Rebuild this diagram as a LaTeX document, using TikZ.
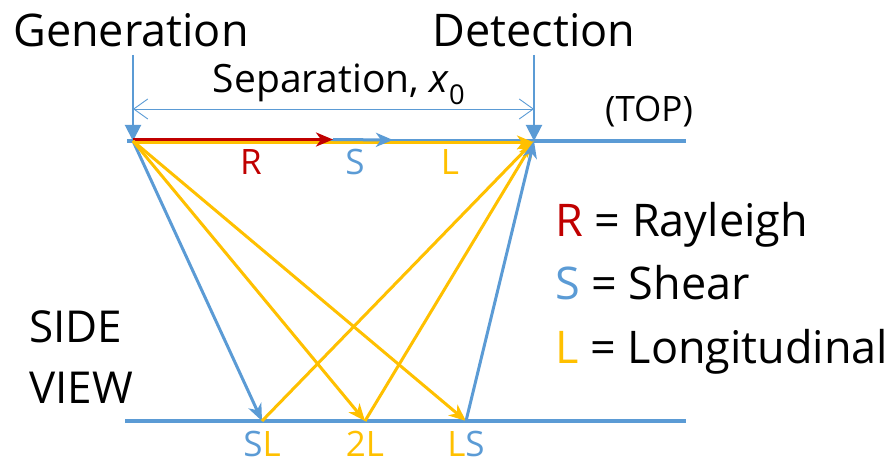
\documentclass[tikz,border=0pt]{standalone}
\usepackage{fontspec}
\setmainfont{Open Sans}
\usetikzlibrary{arrows.meta}
\definecolor{cblue}{HTML}{5B9BD5}
\definecolor{cred}{HTML}{C00000}
\definecolor{cyel}{HTML}{FFC000}
\begin{document}
\begin{tikzpicture}[x=1pt,y=-1pt,
  wave/.style={line width=3pt,-{Stealth[length=17pt,width=14pt,inset=5pt]}},
  surf/.style={cblue,line width=4pt},
  big/.style={font=\fontsize{45}{50}\selectfont,inner sep=0pt},
  side/.style={font=\fontsize{44}{48}\selectfont,inner sep=0pt},
  mid/.style={font=\fontsize{39}{44}\selectfont,inner sep=0pt},
  small/.style={font=\fontsize{35}{40}\selectfont,inner sep=0pt}]
\useasboundingbox (0,0) rectangle (892,465);
% surfaces
\coordinate (TL) at (127,141);
\coordinate (TR) at (686,141);
\coordinate (BL) at (125,421);
\coordinate (BR) at (686,421);
\draw[surf] (TL) -- (TR);
\draw[surf] (BL) -- (BR);
% key points
\coordinate (G) at (133,141);
\coordinate (D) at (534,141);
\coordinate (SL) at (262,421);
\coordinate (2L) at (365,421);
\coordinate (LS) at (466,421);
\coordinate (Gr) at (133,139.5);
\coordinate (Gy) at (133,142.5);
\coordinate (Dy) at (534,142.5);
\coordinate (Rend) at (333,139.5);
\coordinate (Send) at (393,140);
% top labels
\node[big,anchor=base] (gen) at (131,47) {Generation};
\node[big,anchor=base] (det) at (534,47) {Detection};
\coordinate (gtop) at (133,55);
\coordinate (dtop) at (534,55);
\draw[cblue,line width=2pt,-{Triangle[length=16pt,width=16pt]}] (gtop) -- (G);
\draw[cblue,line width=2pt,-{Triangle[length=16pt,width=16pt]}] (dtop) -- (D);
\coordinate (s1) at (133,109);
\coordinate (s2) at (534,109);
\draw[cblue,line width=0.9pt,{Straight Barb[length=14pt,width=20pt]}-{Straight Barb[length=14pt,width=20pt]}] (s1) -- (s2);
\node[mid,anchor=base] (sep) at (339,93) {Separation, \textit{x}\textsubscript{0}};
\node[small,anchor=base] (top) at (649,122) {(TOP)};
% surface waves
\draw[cyel,wave] (Gy) -- (Dy);
\draw[cblue,wave] (Rend) -- (Send);
\draw[cred,wave] (Gr) -- (Rend);
% bulk waves
\draw[cblue,wave] (G) -- (SL);
\draw[cyel,wave] (G) -- (2L);
\draw[cyel,wave] (G) -- (LS);
\draw[cyel,wave] (SL) -- (D);
\draw[cyel,wave] (2L) -- (D);
\draw[cblue,wave] (LS) -- (D);
% wave labels
\node[small,anchor=base,text=cred] (lr) at (251,175) {R};
\node[small,anchor=base,text=cblue] (ls) at (355,175) {S};
\node[small,anchor=base,text=cyel] (ll) at (450,175) {L};
\node[small,anchor=base] (bsl) at (262,456) {\textcolor{cblue}{S}\textcolor{cyel}{L}};
\node[small,anchor=base] (b2l) at (365,456) {\textcolor{cyel}{2L}};
\node[small,anchor=base] (bls) at (466,456) {\textcolor{cyel}{L}\textcolor{cblue}{S}};
% legend
\node[big,anchor=base west] (legR) at (555,237) {\textcolor{cred}{R} = Rayleigh};
\node[big,anchor=base west] (legS) at (555,300) {\textcolor{cblue}{S} = Shear};
\node[big,anchor=base west] (legL) at (555,363) {\textcolor{cyel}{L} = Longitudinal};
% side view
\node[side,anchor=base west] (side) at (29,342) {SIDE};
\node[side,anchor=base west] (view) at (29,403) {VIEW};
\end{tikzpicture}
\end{document}
